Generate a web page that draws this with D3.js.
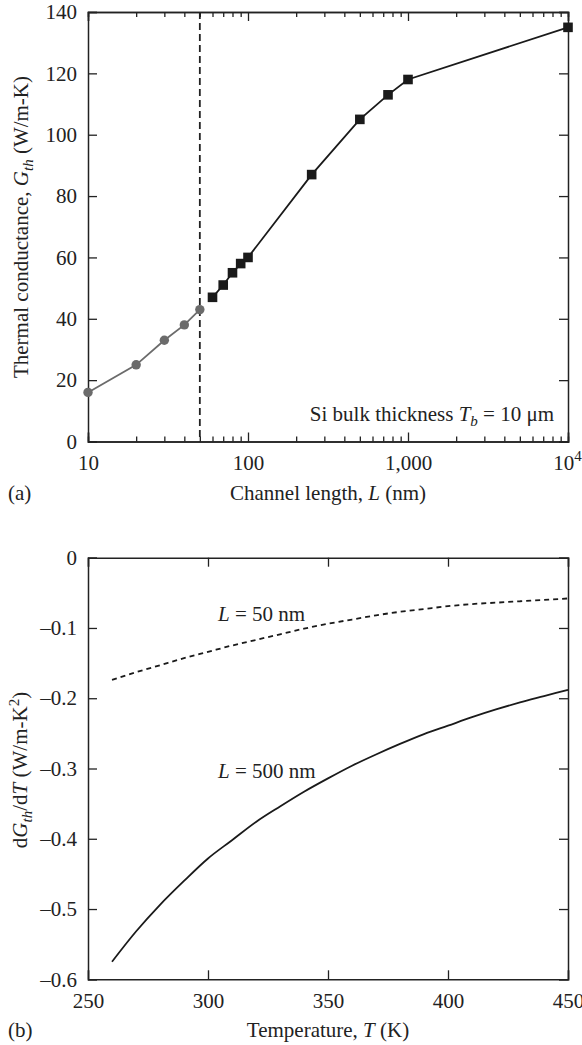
<!DOCTYPE html>
<html>
<head>
<meta charset="utf-8">
<script src="https://cdn.jsdelivr.net/npm/d3@7"></script>
<style>
  body { margin: 0; background: #fff; }
</style>
</head>
<body>
<div id="chart"></div>
<script>
// panel (a): thermal conductance vs channel length
var circleL = [10, 20, 30, 40, 50];
var circleG = [16, 25, 33, 38, 43];
var squareL = [60, 70, 80, 90, 100, 250, 500, 750, 1000, 10000];
var squareG = [47, 51, 55, 58, 60, 87, 105, 113, 118, 135];
var xTicksA = [10, 100, 1000, 10000];
var xTickLabelsA = ["10", "100", "1,000", "10^4"];
var yTicksA = [0, 20, 40, 60, 80, 100, 120, 140];
var cutoffL = 50;

// panel (b): dG/dT vs temperature
var tempT = [260, 270, 280, 290, 300, 310, 320, 330, 340, 350, 360, 370, 380, 390, 400, 410, 420, 430, 440, 450];
var dG50 = [-0.174, -0.163, -0.153, -0.143, -0.134, -0.125, -0.117, -0.109, -0.101, -0.094, -0.088, -0.082, -0.077, -0.073, -0.069, -0.066, -0.064, -0.062, -0.060, -0.058];
var dG500 = [-0.575, -0.532, -0.494, -0.460, -0.428, -0.402, -0.376, -0.354, -0.333, -0.314, -0.296, -0.280, -0.265, -0.251, -0.239, -0.227, -0.216, -0.206, -0.197, -0.188];
var xTicksB = [250, 300, 350, 400, 450];
var yTicksB = [0, -0.1, -0.2, -0.3, -0.4, -0.5, -0.6];

var width = 582, height = 1045;
var fs = 21, fsSub = 15;
var font = "Liberation Serif";
var ink = "#222";

var svg = d3.select("#chart").append("svg")
  .attr("width", width)
  .attr("height", height)
  .attr("font-family", font)
  .attr("fill", ink);

var left = 88, right = 568;

function styleAxis(g) {
  g.attr("font-family", font).attr("font-size", fs);
  g.select(".domain").attr("stroke", ink).attr("stroke-width", 1.5);
  g.selectAll(".tick line").attr("stroke", ink).attr("stroke-width", 1.3);
  g.selectAll(".tick text").attr("font-family", font).attr("font-size", fs).attr("fill", ink);
}

function addText(x, y, anchor) {
  return svg.append("text").attr("x", x).attr("y", y)
    .attr("text-anchor", anchor || "start")
    .attr("font-family", font).attr("font-size", fs).attr("fill", ink);
}

// ---------- panel (a) ----------
var topA = 12, botA = 441.5;
var xA = d3.scaleLog().domain([10, 10000]).range([left, right]);
var yA = d3.scaleLinear().domain([0, 140]).range([botA, topA]);

var minorA = [];
[10, 100, 1000].forEach(function(d) {
  for (var k = 2; k <= 9; k++) minorA.push(d * k);
});

// bottom axis
var gxA = svg.append("g").attr("transform", "translate(0," + botA + ")")
  .call(d3.axisBottom(xA).tickValues(xTicksA).tickSize(-9).tickPadding(14).tickFormat(function() { return ""; }));
styleAxis(gxA);
gxA.selectAll(".tick").each(function(d, i) {
  var t = d3.select(this).select("text");
  var lab = xTickLabelsA[i];
  if (lab.indexOf("^") > -1) {
    var parts = lab.split("^");
    t.text(parts[0]).append("tspan").attr("dy", -9).attr("font-size", fsSub).text(parts[1]);
    t.attr("dx", -1);
  } else {
    t.text(lab);
  }
});
svg.append("g").attr("transform", "translate(0," + botA + ")")
  .call(d3.axisBottom(xA).tickValues(minorA).tickSize(-5).tickFormat(""))
  .call(styleAxis);
// top axis
svg.append("g").attr("transform", "translate(0," + topA + ")")
  .call(d3.axisTop(xA).tickValues(xTicksA).tickSize(-9).tickFormat(""))
  .call(styleAxis);
svg.append("g").attr("transform", "translate(0," + topA + ")")
  .call(d3.axisTop(xA).tickValues(minorA).tickSize(-5).tickFormat(""))
  .call(styleAxis);
// left / right axes
svg.append("g").attr("transform", "translate(" + left + ",0)")
  .call(d3.axisLeft(yA).tickValues(yTicksA).tickSize(-9).tickPadding(11).tickFormat(d3.format("d")))
  .call(styleAxis);
svg.append("g").attr("transform", "translate(" + right + ",0)")
  .call(d3.axisRight(yA).tickValues(yTicksA).tickSize(-9).tickFormat(""))
  .call(styleAxis);

// cutoff line
svg.append("line")
  .attr("x1", xA(cutoffL)).attr("x2", xA(cutoffL))
  .attr("y1", topA).attr("y2", botA)
  .attr("stroke", ink).attr("stroke-width", 1.8)
  .attr("stroke-dasharray", "7,4");

var circleData = circleL.map(function(d, i) { return {L: d, G: circleG[i]}; });
var squareData = squareL.map(function(d, i) { return {L: d, G: squareG[i]}; });

var lineA = d3.line()
  .x(function(d) { return xA(d.L); })
  .y(function(d) { return yA(d.G); });

svg.append("path").datum(circleData)
  .attr("d", lineA).attr("fill", "none")
  .attr("stroke", "#6b6b6b").attr("stroke-width", 1.8);
svg.selectAll(".dot").data(circleData).enter().append("circle")
  .attr("cx", function(d) { return xA(d.L); })
  .attr("cy", function(d) { return yA(d.G); })
  .attr("r", 4.7).attr("fill", "#6b6b6b");

svg.append("path").datum(squareData)
  .attr("d", lineA).attr("fill", "none")
  .attr("stroke", "#1a1a1a").attr("stroke-width", 1.8);
svg.selectAll(".sq").data(squareData).enter().append("rect")
  .attr("x", function(d) { return xA(d.L) - 4.8; })
  .attr("y", function(d) { return yA(d.G) - 4.8; })
  .attr("width", 9.6).attr("height", 9.6).attr("fill", "#1a1a1a");

// annotation
var ann = addText(554, 421, "end");
ann.append("tspan").text("Si bulk thickness ");
ann.append("tspan").attr("font-style", "italic").text("T");
ann.append("tspan").attr("font-style", "italic").attr("font-size", fsSub).attr("dy", 5).text("b");
ann.append("tspan").attr("dy", -5).text(" = 10 \u03bcm");

// axis titles
var ylA = addText(0, 0, "middle").attr("transform", "translate(28,227) rotate(-90)");
ylA.append("tspan").text("Thermal conductance, ");
ylA.append("tspan").attr("font-style", "italic").text("G");
ylA.append("tspan").attr("font-style", "italic").attr("font-size", fsSub).attr("dy", 5).text("th");
ylA.append("tspan").attr("dy", -5).text(" (W/m-K)");

var xlA = addText(328, 500, "middle");
xlA.append("tspan").text("Channel length, ");
xlA.append("tspan").attr("font-style", "italic").text("L");
xlA.append("tspan").text(" (nm)");

addText(8, 500).text("(a)");

// ---------- panel (b) ----------
var topB = 557.7, botB = 979.3;
var xB = d3.scaleLinear().domain([250, 450]).range([left, right]);
var yB = d3.scaleLinear().domain([-0.6, 0]).range([botB, topB]);

var fmtB = function(d) { return d === 0 ? "0" : "\u2013" + d3.format(".1f")(Math.abs(d)); };

svg.append("g").attr("transform", "translate(0," + botB + ")")
  .call(d3.axisBottom(xB).tickValues(xTicksB).tickSize(-9).tickPadding(14).tickFormat(d3.format("d")))
  .call(styleAxis);
svg.append("g").attr("transform", "translate(0," + topB + ")")
  .call(d3.axisTop(xB).tickValues(xTicksB).tickSize(-9).tickFormat(""))
  .call(styleAxis);
svg.append("g").attr("transform", "translate(" + left + ",0)")
  .call(d3.axisLeft(yB).tickValues(yTicksB).tickSize(-9).tickPadding(11).tickFormat(fmtB))
  .call(styleAxis);
svg.append("g").attr("transform", "translate(" + right + ",0)")
  .call(d3.axisRight(yB).tickValues(yTicksB).tickSize(-9).tickFormat(""))
  .call(styleAxis);

var lineB = d3.line()
  .x(function(d) { return xB(d.T); })
  .y(function(d) { return yB(d.v); })
  .curve(d3.curveMonotoneX);

var data50 = tempT.map(function(t, i) { return {T: t, v: dG50[i]}; });
var data500 = tempT.map(function(t, i) { return {T: t, v: dG500[i]}; });

svg.append("path").datum(data50).attr("d", lineB)
  .attr("fill", "none").attr("stroke", "#1a1a1a").attr("stroke-width", 1.8)
  .attr("stroke-dasharray", "5,4");
svg.append("path").datum(data500).attr("d", lineB)
  .attr("fill", "none").attr("stroke", "#1a1a1a").attr("stroke-width", 1.8);

function curveLabel(x, y, val) {
  var t = addText(x, y);
  t.append("tspan").attr("font-style", "italic").text("L");
  t.append("tspan").text(" = " + val + " nm");
}
curveLabel(218, 621, 50);
curveLabel(218, 778, 500);

var ylB = addText(0, 0, "middle").attr("transform", "translate(27,770) rotate(-90)");
ylB.append("tspan").text("d");
ylB.append("tspan").attr("font-style", "italic").text("G");
ylB.append("tspan").attr("font-style", "italic").attr("font-size", fsSub).attr("dy", 5).text("th");
ylB.append("tspan").attr("dy", -5).text("/d");
ylB.append("tspan").attr("font-style", "italic").text("T");
ylB.append("tspan").text(" (W/m-K");
ylB.append("tspan").attr("font-size", fsSub).attr("dy", -8).text("2");
ylB.append("tspan").attr("dy", 8).text(")");

var xlB = addText(328, 1037, "middle");
xlB.append("tspan").text("Temperature, ");
xlB.append("tspan").attr("font-style", "italic").text("T");
xlB.append("tspan").text(" (K)");

addText(8, 1037).text("(b)");
</script>
</body>
</html>
